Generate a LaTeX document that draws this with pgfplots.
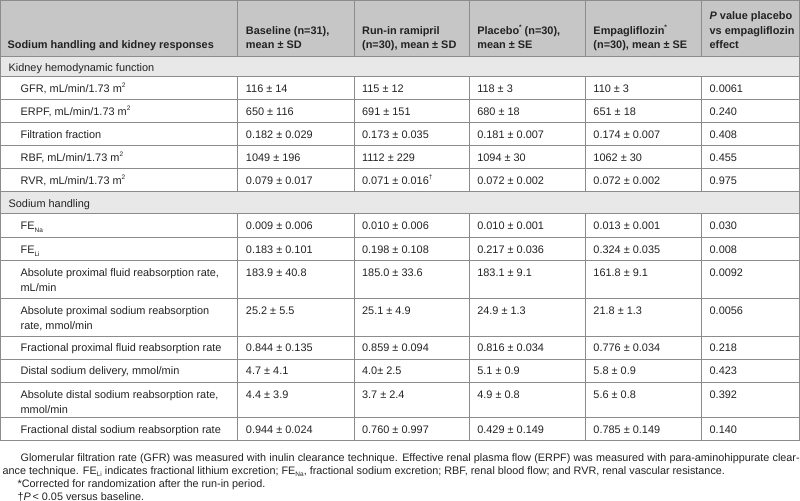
\documentclass[border=0pt]{standalone}
\usepackage{pgfplots}
\pgfplotsset{compat=1.18}
\usepackage{fontspec}
\setmainfont{Liberation Sans}
\definecolor{hdr}{HTML}{C6C6C6}
\definecolor{sec}{HTML}{E8E8E8}
\definecolor{ln}{HTML}{8C8C8C}
\definecolor{tx}{HTML}{222222}
\newcommand\T[3]{\node[anchor=base west,inner sep=0pt,text=tx] at (axis cs:#1,#2) {#3};}
\newcommand\subs[1]{\raisebox{-0.4ex}{\fontsize{6.5}{6.5}\selectfont #1}}
\newcommand\sups[1]{\raisebox{0.85ex}{\fontsize{6.5}{6.5}\selectfont #1}}
% Row: top y, label, c2..c6
\newcommand\Row[7]{%
  \T{20}{\the\numexpr#1+16\relax}{#2}%
  \T{245}{\the\numexpr#1+16\relax}{#3}%
  \T{361}{\the\numexpr#1+16\relax}{#4}%
  \T{476}{\the\numexpr#1+16\relax}{#5}%
  \T{592}{\the\numexpr#1+16\relax}{#6}%
  \T{708}{\the\numexpr#1+16\relax}{#7}}
\begin{document}
\begin{tikzpicture}[font=\fontsize{10.9}{12}\selectfont]
\begin{axis}[width=800pt,height=506pt,scale only axis,
  xmin=0,xmax=800,ymin=0,ymax=506,y dir=reverse,
  axis lines=none,xtick=\empty,ytick=\empty,clip=false]
% backgrounds
\fill[hdr] (axis cs:0,2) rectangle (axis cs:798,58);
\fill[sec] (axis cs:0,58) rectangle (axis cs:798,78);
\fill[sec] (axis cs:0,193) rectangle (axis cs:798,215);
% horizontal lines
\pgfplotsinvokeforeach{2,58,78,101,124,147,170,193,215,239,262,300,337,360,383,418,441}
  {\draw[ln,line width=0.8pt] (axis cs:0,#1) -- (axis cs:798,#1);}
% vertical lines
\pgfplotsinvokeforeach{237,353,468,584,700}
  {\draw[ln,line width=0.8pt] (axis cs:#1,2) -- (axis cs:#1,58);
   \draw[ln,line width=0.8pt] (axis cs:#1,78) -- (axis cs:#1,193);
   \draw[ln,line width=0.8pt] (axis cs:#1,215) -- (axis cs:#1,441);}
\draw[ln,line width=0.8pt] (axis cs:0.4,2) -- (axis cs:0.4,441);
\draw[ln,line width=0.8pt] (axis cs:797.6,2) -- (axis cs:797.6,441);
% header
\T{7}{50.5}{\bfseries Sodium handling and kidney responses}
\T{245}{36}{\bfseries Baseline (n=31),}
\T{245}{50.5}{\bfseries mean ± SD}
\T{361}{36}{\bfseries Run-in ramipril}
\T{361}{50.5}{\bfseries (n=30), mean ± SD}
\T{476}{36}{\bfseries Placebo\sups{*} (n=30),}
\T{476}{50.5}{\bfseries mean ± SE}
\T{592}{36}{\bfseries Empagliflozin\sups{*}}
\T{592}{50.5}{\bfseries (n=30), mean ± SE}
\T{708}{21.5}{\bfseries\itshape P\upshape\ value placebo}
\T{708}{36}{\bfseries vs empagliflozin}
\T{708}{50.5}{\bfseries effect}
% sections
\T{8}{72.5}{Kidney hemodynamic function}
\T{8}{208.5}{Sodium handling}
% rows
\Row{78}{GFR, mL/min/1.73 m\sups{2}}{116 ± 14}{115 ± 12}{118 ± 3}{110 ± 3}{0.0061}
\Row{101}{ERPF, mL/min/1.73 m\sups{2}}{650 ± 116}{691 ± 151}{680 ± 18}{651 ± 18}{0.240}
\Row{124}{Filtration fraction}{0.182 ± 0.029}{0.173 ± 0.035}{0.181 ± 0.007}{0.174 ± 0.007}{0.408}
\Row{147}{RBF, mL/min/1.73 m\sups{2}}{1049 ± 196}{1112 ± 229}{1094 ± 30}{1062 ± 30}{0.455}
\Row{170}{RVR, mL/min/1.73 m\sups{2}}{0.079 ± 0.017}{0.071 ± 0.016\sups{†}}{0.072 ± 0.002}{0.072 ± 0.002}{0.975}
\Row{215}{FE\subs{Na}}{0.009 ± 0.006}{0.010 ± 0.006}{0.010 ± 0.001}{0.013 ± 0.001}{0.030}
\Row{239}{FE\subs{Li}}{0.183 ± 0.101}{0.198 ± 0.108}{0.217 ± 0.036}{0.324 ± 0.035}{0.008}
\Row{262}{Absolute proximal fluid reabsorption rate,}{183.9 ± 40.8}{185.0 ± 33.6}{183.1 ± 9.1}{161.8 ± 9.1}{0.0092}
\T{20}{293}{mL/min}
\Row{300}{Absolute proximal sodium reabsorption}{25.2 ± 5.5}{25.1 ± 4.9}{24.9 ± 1.3}{21.8 ± 1.3}{0.0056}
\T{20}{331}{rate, mmol/min}
\Row{337}{Fractional proximal fluid reabsorption rate}{0.844 ± 0.135}{0.859 ± 0.094}{0.816 ± 0.034}{0.776 ± 0.034}{0.218}
\Row{360}{Distal sodium delivery, mmol/min}{4.7 ± 4.1}{4.0± 2.5}{5.1 ± 0.9}{5.8 ± 0.9}{0.423}
\Row{383}{Absolute distal sodium reabsorption rate,}{4.4 ± 3.9}{3.7 ± 2.4}{4.9 ± 0.8}{5.6 ± 0.8}{0.392}
\T{20}{414}{mmol/min}
\Row{418}{Fractional distal sodium reabsorption rate}{0.944 ± 0.024}{0.760 ± 0.997}{0.429 ± 0.149}{0.785 ± 0.149}{0.140}
% footnotes
\begin{scope}[font=\fontsize{10.8}{12}\selectfont]
\T{20}{462}{\makebox[778pt][s]{Glomerular filtration rate (GFR) was measured with inulin clearance technique. Effective renal plasma flow (ERPF) was measured with para-aminohippurate clear-}}
\T{2}{475}{ance technique. FE\subs{Li} indicates fractional lithium excretion; FE\subs{Na}, fractional sodium excretion; RBF, renal blood flow; and RVR, renal vascular resistance.}
\T{17}{488}{*Corrected for randomization after the run-in period.}
\T{17}{501}{†\textit{P}\,< 0.05 versus baseline.}
\end{scope}
\end{axis}
\end{tikzpicture}
\end{document}
